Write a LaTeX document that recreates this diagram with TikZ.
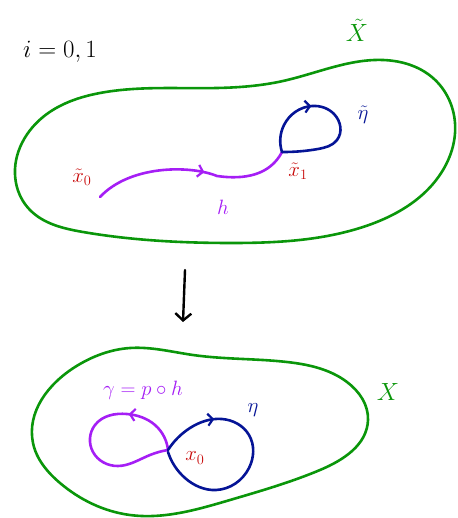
\documentclass[tikz,border=0pt]{standalone}
\usetikzlibrary{decorations.markings,arrows.meta,hobby}
\definecolor{gr}{RGB}{10,150,10}
\definecolor{pu}{RGB}{165,30,245}
\definecolor{bl}{RGB}{5,20,150}
\definecolor{rd}{RGB}{200,10,10}
\tikzset{
  blob/.style={draw=gr,line width=2.6pt,line join=round},
  pathline/.style={line width=2.6pt,line cap=round,line join=round},
  midarrow/.style={postaction={decorate},decoration={markings,mark=at position #1 with {\arrow[line width=2.2pt]{Straight Barb[length=5pt,width=12pt]}}}},
  lbl/.style={inner sep=1pt,font=\fontsize{21}{25}\selectfont},
  biglbl/.style={inner sep=1pt,font=\fontsize{26}{30}\selectfont},
}
\begin{document}
\begin{tikzpicture}[x=1pt,y=-1pt]
\useasboundingbox (0,0) rectangle (457,518);
% top blob
\draw[blob,use Hobby shortcut,closed=true] (16,183) .. (43,117) .. (100,93) .. (217,88) .. (283,81) .. (383,60) .. (433,78) .. (455,123) .. (443,170) .. (363,227) .. (230,243) .. (83,232) .. (30,210);
% bottom blob
\draw[blob,use Hobby shortcut,closed=true] (33,443) .. (75,367) .. (130,348) .. (193,355) .. (287,362) .. (347,382) .. (368,420) .. (320,470) .. (230,500) .. (130,515) .. (60,483);
% top paths
\coordinate (xt0) at (100,197);
\coordinate (xt1) at (282,152);
\draw[pu,pathline,midarrow=0.56] (xt0) .. controls (130,165) and (190,165) .. (217,176) .. controls (245,180) and (270,175) .. (xt1);
\draw[bl,pathline,midarrow=0.36,use Hobby shortcut] (xt1) .. (284,125) .. (312,106) .. (334,114) .. (337,140) .. (318,149) .. (xt1);
\node[lbl,text=rd] (lx0) at (82,177) {$\tilde x_0$};
\node[lbl,text=rd] (lx1) at (298,171) {$\tilde x_1$};
\node[lbl,text=pu] (lh) at (223,207) {$h$};
\node[lbl,text=bl] (leta) at (363,115) {$\tilde\eta$};
\node[biglbl,text=gr] (lX) at (357,30) {$\tilde X$};
\node[biglbl] (li) at (60,52) {$i=0,1$};
% map arrow
\coordinate (a1) at (185,270);
\coordinate (a2) at (183,322);
\draw[line width=2.4pt,line cap=round,-{Straight Barb[length=7pt,width=16pt]}] (a1) -- (a2);
% bottom paths
\coordinate (x0) at (168,450);
\draw[pu,pathline,midarrow=0.28,use Hobby shortcut] (x0) .. (155,425) .. (127,414) .. (95,425) .. (93,452) .. (118,466) .. (150,455) .. (x0);
\draw[bl,pathline,midarrow=0.24,use Hobby shortcut] (x0) .. (190,428) .. (222,419) .. (249,435) .. (249,468) .. (216,490) .. (185,478) .. (168,452);
\node[lbl,text=pu] (lg) at (143,390) {$\gamma=p\circ h$};
\node[lbl,text=bl] (le) at (253,410) {$\eta$};
\node[lbl,text=rd] (lx) at (195,458) {$x_0$};
\node[biglbl,text=gr] (lXb) at (388,392) {$X$};
\end{tikzpicture}
\end{document}
